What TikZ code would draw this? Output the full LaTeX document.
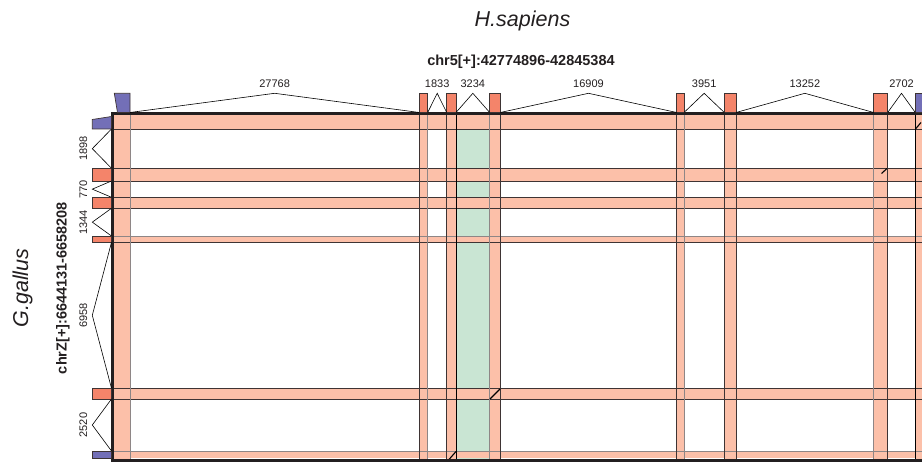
\documentclass[tikz,border=0pt]{standalone}
\usepackage{fontspec}
\setmainfont{Liberation Sans}
\usetikzlibrary{calc}
\definecolor{exonc}{HTML}{F4846A}
\definecolor{purpc}{HTML}{736FB7}
\definecolor{bandc}{HTML}{FCC0A9}
\definecolor{greenc}{HTML}{C9E5D3}
\definecolor{edgec}{HTML}{3E3434}
\definecolor{lightc}{HTML}{8E8686}
\definecolor{framec}{HTML}{231F20}
\definecolor{textc}{HTML}{231F20}
\begin{document}
\begin{tikzpicture}[x=1pt,y=-1pt,
  exonbox/.style={draw=edgec,line width=0.7pt,inner sep=0pt,outer sep=0pt,rectangle},
  intron/.style={draw=black,line width=0.6pt},
  numlbl/.style={font=\fontsize{11}{12}\selectfont,text=textc,inner sep=0pt},
  dline/.style={draw=edgec,line width=0.8pt},
  gline/.style={draw=lightc,line width=0.8pt},
  aligndash/.style={draw=black,line width=1.1pt},
  bigtitle/.style={font=\fontsize{21.5}{24}\selectfont\itshape,text=textc,inner sep=0pt},
  chrtitle/.style={font=\bfseries\fontsize{14.5}{16}\selectfont,text=textc,inner sep=0pt}]
\useasboundingbox (0,0) rectangle (922,462);
\begin{scope}
\clip (0,0) rectangle (922,462);
% green aligned block
\fill[greenc] (456,114) rectangle (489.7,459);
% horizontal bands (G.gallus exons)
\foreach \a/\b in {114/129,168.3/181,197.3/208.3,236/242.3,388.3/399,451/458.3}
  \fill[bandc] (114,\a) rectangle (930,\b);
% vertical bands (H.sapiens exons)
\foreach \a/\b in {114.3/130,419.3/427.7,446.7/456,489.7/500.3,676.7/684,724.3/736,873.7/887.7,915.3/930}
  \fill[bandc] (\a,114) rectangle (\b,459);
% band outlines
\foreach \y/\s in {129/dline,168.3/dline,181/dline,197.3/dline,208.3/dline,236/gline,242.3/dline,388.3/dline,399/dline,451/gline}
  \draw[\s] (114,\y) -- (930,\y);
\foreach \x/\s in {130/gline,419.3/dline,427.7/gline,446.7/dline,489.7/gline,500.3/dline,676.7/dline,684/gline,724.3/dline,736/dline,873.7/gline,887.7/dline}
  \draw[\s] (\x,114) -- (\x,459);
\draw[black,line width=1pt] (456,114) -- (456,459);
\draw[black,line width=1pt] (915.3,114) -- (915.3,459);
% alignment marks
\draw[aligndash] (915.5,129) -- (921,122.5);
\draw[aligndash] (881.5,173.5) -- (887,168.5);
\draw[aligndash] (490,399) -- (500,389);
\draw[aligndash] (449,459.5) -- (456,451.5);
% frame
\draw[framec,line width=3pt] (930,113.5) -- (112.5,113.5) -- (112.5,460.2) -- (930,460.2);
% H.sapiens exons
\node[inner sep=0pt,outer sep=0pt,minimum width=15.7pt,minimum height=19.2pt] (h1) at (122.15,102.9) {};
\fill[purpc,draw=edgec,line width=0.7pt] (114.3,93.3) -- (130,93.3) -- (130,112.5) -- (117.5,112.5) -- cycle;
\foreach \n/\a/\b/\c in {2/419.3/427.7/exonc,3/446.7/456/exonc,4/489.7/500.3/exonc,5/676.7/684/exonc,6/724.3/736/exonc,7/873.7/887.7/exonc,8/915.3/930/purpc}
  \node[exonbox,fill=\c,minimum width={\b-\a},minimum height=19.2pt] (h\n) at ({(\a+\b)/2},102.9) {};
% G.gallus exons
\node[inner sep=0pt,outer sep=0pt,minimum width=19.2pt,minimum height=10pt] (g1) at (101.9,124) {};
\fill[purpc,draw=edgec,line width=0.7pt] (92.3,119.5) -- (111.5,116.5) -- (111.5,129) -- (92.3,129) -- cycle;
\foreach \n/\a/\b/\c in {2/168.3/181/exonc,3/197.3/208.3/exonc,4/236/242.3/exonc,5/388.3/399/exonc,6/451/458.3/purpc}
  \node[exonbox,fill=\c,minimum width=19.2pt,minimum height={\b-\a}] (g\n) at (101.9,{(\a+\b)/2}) {};
% introns H.sapiens
\foreach \i/\j/\t in {1/2/27768,2/3/1833,3/4/3234,4/5/16909,5/6/3951,6/7/13252,7/8/2702} {
  \coordinate (m) at ($(h\i.south east)!0.5!(h\j.south west)$);
  \draw[intron] (h\i.south east) -- (m |- h\i.north) -- (h\j.south west);
  \path (m) ++(0,-28.5) node[numlbl] {\t};
}
% introns G.gallus
\foreach \i/\j/\t in {1/2/1898,2/3/770,3/4/1344,4/5/6958,5/6/2520} {
  \coordinate (m) at ($(g\i.south east)!0.5!(g\j.north east)$);
  \draw[intron] (g\i.south east) -- (m -| g\i.west) -- (g\j.north east);
  \path (m) ++(-28.2,0) node[numlbl,rotate=90] {\t};
}
% titles
\node[bigtitle] (hs) at (522.5,20.5) {H.sapiens};
\node[chrtitle,anchor=base] (hchr) at (521,65.7) {chr5[+]:42774896-42845384};
\node[bigtitle,rotate=90,anchor=base] (gg) at (28,288) {G.gallus};
\node[chrtitle,rotate=90,anchor=base] (gchr) at (66.5,288) {chrZ[+]:6644131-6658208};
\end{scope}
\end{tikzpicture}
\end{document}
